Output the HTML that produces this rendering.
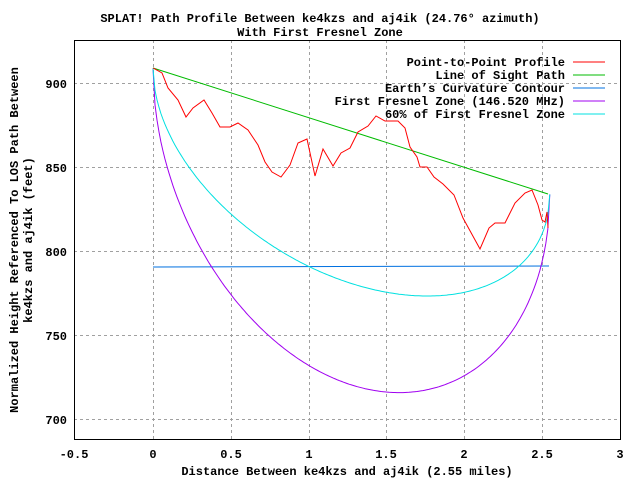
<!DOCTYPE html>
<html><head><meta charset="utf-8"><style>
body{margin:0;background:#fff}
svg{display:block}
text{font-family:"Liberation Mono","DejaVu Sans Mono",monospace;font-size:12px;font-weight:bold;fill:#000}
</style></head><body>
<svg id="s" width="640" height="480" xmlns="http://www.w3.org/2000/svg">
<rect width="640" height="480" fill="#fff"/>
<g stroke="#a0a0a0" stroke-dasharray="3,3" stroke-width="1">
<line x1="74" x2="620" y1="83.5" y2="83.5"/><line x1="74" x2="620" y1="167.5" y2="167.5"/>
<line x1="74" x2="620" y1="251.5" y2="251.5"/><line x1="74" x2="620" y1="335.5" y2="335.5"/>
<line x1="74" x2="620" y1="419.5" y2="419.5"/>
<line x1="153.5" x2="153.5" y1="40" y2="440"/><line x1="231.5" x2="231.5" y1="40" y2="440"/>
<line x1="309.5" x2="309.5" y1="40" y2="440"/><line x1="386.5" x2="386.5" y1="40" y2="440"/>
<line x1="464.5" x2="464.5" y1="40" y2="440"/><line x1="542.5" x2="542.5" y1="40" y2="440"/>
</g>
<rect x="74.5" y="40.5" width="546" height="399" fill="none" stroke="#000"/>
<text x="320" y="22" text-anchor="middle">SPLAT! Path Profile Between ke4kzs and aj4ik (24.76° azimuth)</text>
<text x="320" y="36" text-anchor="middle">With First Fresnel Zone</text>
<g text-anchor="end"><text x="67" y="88">900</text><text x="67" y="172">850</text><text x="67" y="256">800</text><text x="67" y="340">750</text><text x="67" y="424">700</text></g>
<g text-anchor="middle"><text x="74" y="458">-0.5</text><text x="153" y="458">0</text><text x="231" y="458">0.5</text><text x="309" y="458">1</text><text x="386" y="458">1.5</text><text x="464" y="458">2</text><text x="542" y="458">2.5</text><text x="620" y="458">3</text></g>
<text x="347" y="475" text-anchor="middle">Distance Between ke4kzs and aj4ik (2.55 miles)</text>
<text transform="translate(18,240) rotate(-90)" text-anchor="middle">Normalized Height Referenced To LOS Path Between</text>
<text transform="translate(32,240) rotate(-90)" text-anchor="middle">ke4kzs and aj4ik (feet)</text>
<g text-anchor="end"><text x="565" y="66">Point-to-Point Profile</text><text x="565" y="79">Line of Sight Path</text><text x="565" y="92">Earth’s Curvature Contour</text><text x="565" y="105">First Fresnel Zone (146.520 MHz)</text><text x="565" y="118">60% of First Fresnel Zone</text></g>
<g stroke-width="1"><line x1="573" x2="605" y1="62" y2="62" stroke="#f00"/><line x1="573" x2="605" y1="75" y2="75" stroke="#0b0"/><line x1="573" x2="605" y1="88" y2="88" stroke="#0070e0"/><line x1="573" x2="605" y1="101" y2="101" stroke="#a000f0"/><line x1="573" x2="605" y1="114" y2="114" stroke="#00e0e0"/></g>
<line x1="153" y1="267" x2="549" y2="266" stroke="#0070e0"/>
<path id="mag" fill="none" stroke="#a000f0"/>
<path id="cy" fill="none" stroke="#00e0e0"/>
<line x1="153" y1="68" x2="548" y2="194" stroke="#0b0"/>
<polyline fill="none" stroke="#f00" points="153,68 162,73 168,88 178,100 186,117 193,108 204,100 212,113 220,127 230,127 238,123 248,130 258,145 265,162 272,172 281,177 290,165 298,143 307,139 315,176 323,149 333,166 341,153 350,148 358,132 368,126 376,116 385,121 398,121 405,128 410,147 417,157 420,167 427,167 434,177 443,184 454,195 463,218 480,249 489,228 495,223 505,223 515,203 525,193 532,190 538,205 542,220 545,222 547,212 548,228"/>
</svg>
<script>
var D=2.55;function X(d){return 153+d*155.6}function Y(h){return 83.5+(900-h)*1.68}
var m="",c="";for(var i=0;i<=200;i++){var d=D*i/200,los=909-75*d/D,r=189*Math.sqrt(d*(D-d)/D);
m+=(i?"L":"M")+X(d).toFixed(1)+","+Y(los-r).toFixed(1);c+=(i?"L":"M")+X(d).toFixed(1)+","+Y(los-0.6*r).toFixed(1);}
document.getElementById("mag").setAttribute("d",m);document.getElementById("cy").setAttribute("d",c);
</script>
</body></html>
